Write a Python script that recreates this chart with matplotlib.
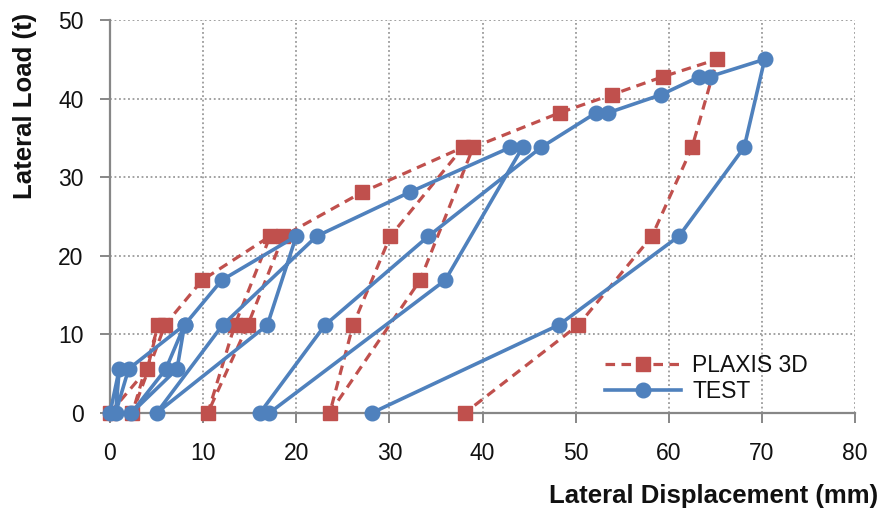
import matplotlib
matplotlib.use("Agg")
import matplotlib.pyplot as plt

# ---- data ----
plaxis_x = [0, 4.0, 5.2, 2.4, 5.9, 9.9, 17.2, 13.4, 10.5, 14.8, 18.6, 27.1, 37.9,
            30.1, 26.1, 23.6, 33.3, 39.0, 48.3, 53.9, 59.4, 65.2, 62.5, 58.2, 50.3, 38.1]
plaxis_y = [0, 5.6, 11.2, 0, 11.2, 16.9, 22.5, 11.2, 0, 11.2, 22.5, 28.1, 33.8,
            22.5, 11.2, 0, 16.9, 33.8, 38.2, 40.5, 42.8, 45.0, 33.8, 22.5, 11.2, 0]

test_x = [0, 1.0, 0.6, 2.0, 8.0, 7.2, 2.3, 6.0, 8.0, 12.0, 20.0, 16.9, 5.0, 12.1,
          22.2, 32.2, 43.0, 44.3, 36.0, 17.1, 16.1, 23.1, 34.2, 46.3, 52.2, 53.5,
          59.2, 63.3, 64.4, 70.3, 68.1, 61.1, 48.2, 28.1]
test_y = [0, 5.6, 0, 5.6, 11.2, 5.6, 0, 5.6, 11.2, 16.9, 22.5, 11.2, 0, 11.2,
          22.5, 28.1, 33.8, 33.8, 16.9, 0, 0, 11.2, 22.5, 33.8, 38.2, 38.2,
          40.5, 42.8, 42.8, 45.0, 33.8, 22.5, 11.2, 0]

x_ticks = [0, 10, 20, 30, 40, 50, 60, 70, 80]
y_ticks = [0, 10, 20, 30, 40, 50]
series_labels = ["PLAXIS 3D", "TEST"]
x_label = "Lateral Displacement (mm)"
y_label = "Lateral Load (t)"

RED = "#C0504D"
BLUE = "#4F81BD"
GRID = "#9a9a9a"
AXC = "#878787"

plt.rcParams['font.family'] = ['Liberation Sans', 'DejaVu Sans']

fig = plt.figure(figsize=(8.83, 5.13), dpi=100)
ax = fig.add_axes([110/883, 1-413/513, (855-110)/883, (413-20)/513])

ax.plot(plaxis_x, plaxis_y, color=RED, lw=2.3, linestyle=(0, (3, 2)),
        marker='s', markersize=10, markerfacecolor=RED, markeredgecolor=RED,
        clip_on=False, zorder=3, label=series_labels[0])
ax.plot(test_x, test_y, color=BLUE, lw=2.6, linestyle='-',
        marker='o', markersize=10.5, markerfacecolor=BLUE, markeredgecolor=BLUE,
        clip_on=False, zorder=4, label=series_labels[1])

ax.set_xlim(0, 80)
ax.set_ylim(0, 50)
ax.set_xticks(x_ticks)
ax.set_yticks(y_ticks)

ax.grid(True, color=GRID, linestyle=(0, (1, 1.5)), linewidth=1.3, zorder=0)
ax.set_axisbelow(True)
for s in ['top', 'right']:
    ax.spines[s].set_visible(False)
for s in ['left', 'bottom']:
    ax.spines[s].set_color(AXC)
    ax.spines[s].set_linewidth(1.6)

ax.tick_params(axis='both', direction='out', length=7, width=1.4, color=AXC,
               labelsize=16.5, labelcolor='#111111')
ax.tick_params(axis='x', pad=14)
ax.tick_params(axis='y', pad=12)

fig.text(878/883, 1-496/513, x_label, ha='right', va='center',
         fontsize=18.5, fontweight='bold', color='#111111')
fig.text(25/883, 1-106/513, y_label, ha='center', va='center', rotation=90,
         fontsize=18.5, fontweight='bold', color='#111111')

leg = ax.legend(loc='upper left', bbox_to_anchor=(605/883, 1-354/513),
                bbox_transform=fig.transFigure, frameon=False, fontsize=16.5,
                handlelength=3.3, handletextpad=0.5, labelspacing=0.12,
                borderpad=0, borderaxespad=0, numpoints=1)
for t in leg.get_texts():
    t.set_color('#111111')

fig.savefig("out.png", dpi=100)
